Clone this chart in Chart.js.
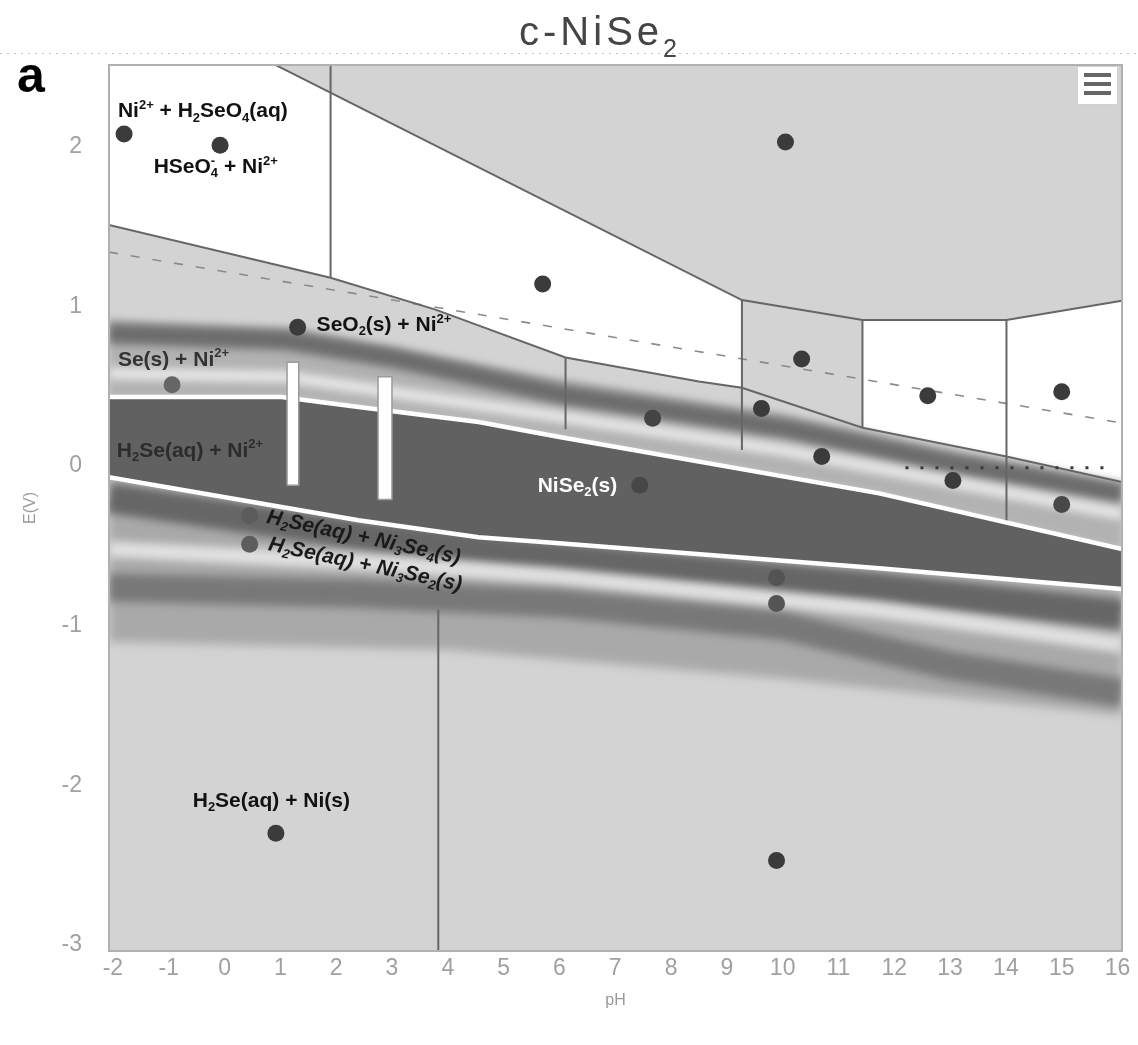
<!DOCTYPE html>
<html>
<head>
<meta charset="utf-8">
<title>c-NiSe2 Pourbaix diagram</title>
<script src="https://cdn.jsdelivr.net/npm/chart.js@4.4.1/dist/chart.umd.min.js"></script>
<style>
  html, body { margin: 0; padding: 0; background: #fff; }
  canvas { display: block; }
</style>
</head>
<body>
<canvas id="pourbaix" width="1138" height="1045"></canvas>
<script>
// axis ticks
const phTicks = [-2, -1, 0, 1, 2, 3, 4, 5, 6, 7, 8, 9, 10, 11, 12, 13, 14, 15, 16];
const eTicks = [-3, -2, -1, 0, 1, 2];

// sampled conditions (pH, E) shown as dots
const samplePH = [-1.8, -0.08, 10.05, 5.7, 1.31, -0.94, 10.34, 7.67, 9.62, 12.6, 15.0, 10.7, 7.44, 13.05, 15.0, 0.45, 0.45, 9.89, 9.89, 0.92, 9.89];
const sampleE = [2.08, 2.01, 2.03, 1.14, 0.87, 0.51, 0.67, 0.30, 0.36, 0.44, 0.465, 0.06, -0.12, -0.09, -0.24, -0.31, -0.49, -0.70, -0.86, -2.30, -2.47];
const sampleColor = ['#3b3b3b', '#3b3b3b', '#3b3b3b', '#3b3b3b', '#3b3b3b', '#666', '#3b3b3b', '#444', '#3b3b3b',
  '#3b3b3b', '#3b3b3b', '#3b3b3b', '#474747', '#3b3b3b', '#484848', '#5c5c5c', '#5c5c5c', '#545454', '#545454', '#3b3b3b', '#3b3b3b'];

// region boundaries as [pH, E] pairs
const envelope = [[0.87, 2.52], [9.27, 1.04], [11.43, 0.915], [14.01, 0.915], [16.08, 1.035]];
const whiteTop = [[-2.07, 2.52], [0.87, 2.52], [9.27, 1.04]];
const splitLine = [[-2.07, 1.51], [1.9, 1.18], [3.78, 0.98], [6.11, 0.68], [8.5, 0.53], [9.27, 0.49], [11.43, 0.24], [14.01, 0.06], [16.08, -0.1]];
const whiteRightTop = [[11.43, 0.915], [14.01, 0.915], [16.08, 1.035]];
const bandTop = [[-2.07, 0.92], [1.1, 0.87], [6, 0.55], [10, 0.33], [13, 0.1], [16.08, -0.12]];
const upperWhite = [[-2.07, 0.433], [1.02, 0.433], [2.4, 0.37], [4.55, 0.276], [6, 0.182], [11.73, -0.171], [16.08, -0.52]];
const lowerWhite = [[-2.07, -0.069], [2.4, -0.339], [4.55, -0.445], [6, -0.483], [11.73, -0.64], [16.08, -0.77]];
const lowerBandBottom = [[-2.07, -1.1], [4, -1.15], [10, -1.33], [16.08, -1.56]];

// vertical region dividers
const dividerPH = [1.9, 6.11, 9.27, 11.43, 14.01, 3.83];
const dividerTop = [2.52, 0.68, 1.04, 0.915, 0.915, -0.9];
const dividerBottom = [1.18, 0.23, 0.10, 0.24, -0.34, -3.04];

// water stability line and dotted reference line
const waterPH = [-2.07, 16.08];
const waterE = [1.34, 0.27];
const dottedPH = [12.2, 15.95];
const dottedE = [-0.01, -0.01];

// soft shading stripes inside the band zones
const stripeLines = [
  [[-2.07, 0.83], [1.1, 0.79], [3, 0.68], [6, 0.45], [10, 0.24], [13, 0.02], [16.08, -0.17]],
  [[-2.07, 0.58], [1.1, 0.56], [6, 0.31], [10, 0.1], [16.08, -0.3]],
  [[-2.07, -0.2], [2.4, -0.43], [6, -0.57], [11.7, -0.76], [16.08, -0.93]],
  [[-2.07, -0.52], [2.4, -0.6], [6, -0.69], [11.7, -0.9], [16.08, -1.12]],
  [[-2.07, -0.76], [2.4, -0.8], [6, -0.86], [10, -1.0], [13, -1.25], [16.08, -1.42]]
];
const stripeWidth = [20, 12, 30, 16, 28];
const stripeColor = ['rgba(85,85,85,0.75)', 'rgba(240,240,240,0.85)', 'rgba(90,90,90,0.85)', 'rgba(235,235,235,0.85)', 'rgba(100,100,100,0.7)'];

// white marker bars: pH range and E range
const barPH = [[1.12, 1.33], [2.75, 3.0]];
const barE = [[-0.12, 0.65], [-0.21, 0.56]];

// phase labels
const labelTexts = ['Ni^{2+} + H_{2}SeO_{4}(aq)', 'HSeO_{4}^{-} + Ni^{2+}', 'SeO_{2}(s) + Ni^{2+}', 'Se(s) + Ni^{2+}',
  'H_{2}Se(aq) + Ni^{2+}', 'NiSe_{2}(s)', 'H_{2}Se(aq) + Ni_{3}Se_{4}(s)', 'H_{2}Se(aq) + Ni_{3}Se_{2}(s)', 'H_{2}Se(aq) + Ni(s)'];
const labelPH = [-1.91, -1.27, 1.65, -1.91, -1.93, 5.61, 0.76, 0.79, -0.57];
const labelE = [2.22, 1.87, 0.88, 0.665, 0.095, -0.125, -0.32, -0.49, -2.1];
const labelAngle = [0, 0, 0, 0, 0, 0, 12, 12, 0];
const labelColor = ['#111', '#111', '#111', '#333', '#2c2c2c', '#fff', '#1a1a1a', '#1a1a1a', '#111'];

const FONT = '"Liberation Sans", Arial, sans-serif';
const pts = arr => arr.map(([x, y]) => ({x, y}));

function lineSet(arr, extra) {
  return Object.assign({
    data: pts(arr), borderWidth: 0, borderColor: 'rgba(0,0,0,0)', pointRadius: 0,
    fill: false, tension: 0, clip: 0
  }, extra);
}

// datasets listed bottom to top
const layers = [];
layers.push(lineSet(whiteTop, {fill: '+1', backgroundColor: '#ffffff'}),
  lineSet(splitLine.filter(p => p[0] <= 9.27)));
layers.push(lineSet(whiteRightTop, {fill: '+1', backgroundColor: '#ffffff'}),
  lineSet(splitLine.filter(p => p[0] >= 11.43)));

const upperWhiteSet = lineSet(upperWhite, {borderColor: '#ffffff', borderWidth: 4.5, backgroundColor: '#616161'});
const lowerWhiteSet = lineSet(lowerWhite, {borderColor: '#ffffff', borderWidth: 4.5});
const upperBase = lineSet(bandTop, {backgroundColor: '#b2b2b2', blur: 3});
const lowerBase = lineSet(lowerBandBottom, {backgroundColor: '#a9a9a9', blur: 5});
layers.push(upperBase, lowerBase);

stripeLines.forEach((s, i) => {
  layers.push(lineSet(s, {borderColor: stripeColor[i], borderWidth: stripeWidth[i], blur: 4}));
});

layers.push(upperWhiteSet, lowerWhiteSet);

layers.push(lineSet([[waterPH[0], waterE[0]], [waterPH[1], waterE[1]]],
  {borderColor: '#8a8a8a', borderWidth: 1.6, borderDash: [9, 13]}));
layers.push(lineSet(envelope, {borderColor: '#666', borderWidth: 2}));
layers.push(lineSet(splitLine, {borderColor: '#666', borderWidth: 2}));
dividerPH.forEach((ph, i) => {
  layers.push(lineSet([[ph, dividerTop[i]], [ph, dividerBottom[i]]], {borderColor: '#666', borderWidth: 2}));
});
layers.push(lineSet([[dottedPH[0], dottedE[0]], [dottedPH[1], dottedE[1]]],
  {borderColor: '#3a3a3a', borderWidth: 3, borderDash: [3, 12]}));

barPH.forEach((r, i) => {
  layers.push(lineSet([[r[0], barE[i][1]], [r[1], barE[i][1]]], {fill: '+1', backgroundColor: '#ffffff'}));
  layers.push(lineSet([[r[0], barE[i][0]], [r[1], barE[i][0]]]));
  layers.push(lineSet([[r[0], barE[i][0]], [r[0], barE[i][1]], [r[1], barE[i][1]], [r[1], barE[i][0]], [r[0], barE[i][0]]],
    {borderColor: '#9a9a9a', borderWidth: 1.5}));
});

layers.push({
  data: samplePH.map((x, i) => ({x, y: sampleE[i]})),
  showLine: false, pointRadius: 8.5, pointBorderWidth: 0,
  pointBackgroundColor: sampleColor, clip: 0
});

// band fills reach across to the white boundary lines
upperBase.fill = layers.indexOf(upperWhiteSet);
lowerBase.fill = layers.indexOf(lowerWhiteSet);
upperWhiteSet.fill = layers.indexOf(lowerWhiteSet);
layers.forEach((d, i) => { d.order = layers.length - i; });

function richParts(str) {
  const parts = [];
  const re = /([_^])\{([^}]*)\}/g;
  let last = 0, m;
  while ((m = re.exec(str))) {
    if (m.index > last) parts.push({t: str.slice(last, m.index), k: ''});
    parts.push({t: m[2], k: m[1]});
    last = re.lastIndex;
  }
  if (last < str.length) parts.push({t: str.slice(last), k: ''});
  return parts;
}

function drawRich(ctx, str, x, y, size, style, family, measureOnly) {
  const small = Math.round(size * 0.62);
  let cx = x, subStart = 0, subW = 0, prevSub = false;
  for (const p of richParts(str)) {
    ctx.font = `${style} ${p.k ? small : size}px ${family}`;
    const w = ctx.measureText(p.t).width;
    let px = cx, dy = 0;
    if (p.k === '_') dy = size * 0.3;
    if (p.k === '^') dy = -size * 0.3;
    if (p.k === '^' && prevSub) {
      px = subStart;
      cx = subStart + Math.max(w, subW);
    } else {
      cx += w;
    }
    if (!measureOnly) ctx.fillText(p.t, px, y + dy);
    prevSub = p.k === '_';
    if (prevSub) { subStart = px; subW = w; }
  }
  return cx - x;
}

// blur for datasets flagged with `blur`; registered ahead of the filler so fills get it too
const softEdges = {
  id: 'softEdges',
  beforeDatasetDraw(chart, args) {
    const ds = chart.data.datasets[args.index];
    if (ds.blur) chart.ctx.filter = `blur(${ds.blur}px)`;
  },
  afterDatasetDraw(chart) {
    chart.ctx.filter = 'none';
  }
};
const fillerPlugin = Chart.registry.getPlugin('filler');
if (fillerPlugin) {
  Chart.unregister(fillerPlugin);
  Chart.register(softEdges, fillerPlugin);
} else {
  Chart.register(softEdges);
}

const decor = {
  id: 'decor',
  beforeDatasetsDraw(chart) {
    const {ctx, chartArea: a} = chart;
    ctx.save();
    ctx.fillStyle = '#d3d3d3';
    ctx.fillRect(a.left, a.top, a.right - a.left, a.bottom - a.top);
    ctx.restore();
  },
  afterDatasetsDraw(chart) {
    const {ctx, chartArea: a, scales: {x, y}} = chart;
    ctx.save();
    ctx.filter = 'none';
    ctx.textBaseline = 'middle';
    labelTexts.forEach((t, i) => {
      ctx.save();
      ctx.translate(x.getPixelForValue(labelPH[i]), y.getPixelForValue(labelE[i]));
      ctx.rotate(labelAngle[i] * Math.PI / 180);
      ctx.fillStyle = labelColor[i];
      drawRich(ctx, t, 0, 0, 21, labelAngle[i] ? 'italic bold' : 'bold', FONT);
      ctx.restore();
    });
    ctx.strokeStyle = '#b0b0b0';
    ctx.lineWidth = 2;
    ctx.strokeRect(a.left, a.top, a.right - a.left, a.bottom - a.top);
    ctx.restore();
  },
  afterDraw(chart) {
    const ctx = chart.ctx;
    ctx.save();
    // separator under the title
    ctx.strokeStyle = '#c4c4c4';
    ctx.lineWidth = 1;
    ctx.setLineDash([2, 5]);
    ctx.beginPath();
    ctx.moveTo(0, 53.5);
    ctx.lineTo(chart.width, 53.5);
    ctx.stroke();
    ctx.setLineDash([]);

    // title
    ctx.fillStyle = '#454545';
    ctx.textBaseline = 'alphabetic';
    ctx.letterSpacing = '4px';
    const title = 'c-NiSe_{2}';
    const tw = drawRich(ctx, title, 0, 0, 40, 'normal', FONT, true);
    drawRich(ctx, title, 600 - tw / 2, 45, 40, 'normal', FONT);
    ctx.letterSpacing = '0px';

    // panel letter
    ctx.fillStyle = '#000';
    ctx.font = `bold 50px ${FONT}`;
    ctx.fillText('a', 17, 92);

    // menu button
    ctx.fillStyle = '#fff';
    ctx.strokeStyle = '#d0d0d0';
    ctx.lineWidth = 1;
    ctx.fillRect(1077, 66, 40, 38);
    ctx.strokeRect(1077.5, 66.5, 40, 38);
    ctx.strokeStyle = '#666';
    ctx.lineWidth = 4;
    [75, 84, 93].forEach(yy => {
      ctx.beginPath();
      ctx.moveTo(1084, yy);
      ctx.lineTo(1111, yy);
      ctx.stroke();
    });
    ctx.restore();
  }
};

new Chart(document.getElementById('pourbaix'), {
  type: 'line',
  data: {datasets: layers},
  options: {
    responsive: false,
    animation: false,
    events: [],
    layout: {padding: {top: 65, right: 16, bottom: 0, left: 0}},
    plugins: {
      legend: {display: false},
      tooltip: {enabled: false}
    },
    scales: {
      x: {
        type: 'linear',
        min: -2.07,
        max: 16.08,
        grid: {display: false, drawTicks: false},
        border: {display: false},
        afterBuildTicks: s => { s.ticks = phTicks.map(v => ({value: v})); },
        afterFit: s => { s.height = 94; },
        ticks: {
          autoSkip: false, maxRotation: 0, padding: 4, color: '#a0a0a0',
          font: {family: FONT, size: 23},
          callback: v => String(v)
        },
        title: {
          display: true, text: 'pH', color: '#9a9a9a',
          font: {family: FONT, size: 16},
          padding: {top: 0, bottom: 35}
        }
      },
      y: {
        type: 'linear',
        min: -3.037,
        max: 2.512,
        grid: {display: false, drawTicks: false},
        border: {display: false},
        afterBuildTicks: s => { s.ticks = eTicks.map(v => ({value: v})); },
        afterFit: s => { s.width = 109; },
        ticks: {
          padding: 27, color: '#a0a0a0',
          font: {family: FONT, size: 23},
          callback: v => String(v)
        },
        title: {
          display: true, text: 'E(V)', color: '#9a9a9a',
          font: {family: FONT, size: 16},
          padding: {top: 21, bottom: 0}
        }
      }
    }
  },
  plugins: [decor]
});
</script>
</body>
</html>
